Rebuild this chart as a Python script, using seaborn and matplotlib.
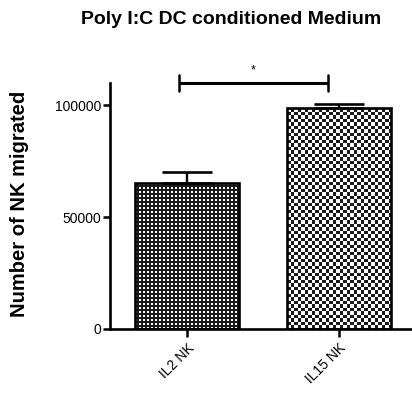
import numpy as np
import matplotlib
matplotlib.use("Agg")
import matplotlib.pyplot as plt
from matplotlib.colors import ListedColormap
import seaborn as sns
import pandas as pd

# Migration assay: NK cells toward Poly I:C DC conditioned medium
groups = ["IL2 NK", "IL15 NK"]
mean_migrated = [65200, 98600]
sem_migrated = [5200, 1900]
y_ticks = [0, 50000, 100000]
y_tick_labels = ["0", "50000", "100000"]
significance = "*"

sns.set_theme(style="white")
plt.rcParams["font.family"] = ["Liberation Sans", "DejaVu Sans"]
plt.rcParams["text.color"] = "black"

W, H, DPI = 412, 399, 100
fig = plt.figure(figsize=(W / DPI, H / DPI), dpi=DPI)
ax = fig.add_axes([110 / W, 1 - 329 / H, (W - 110) / W, (329 - 83) / H])

df = pd.DataFrame({"group": groups, "migrated": mean_migrated})
sns.barplot(data=df, x="group", y="migrated", ax=ax, width=0.684,
            facecolor="none", edgecolor="black", linewidth=1.9, zorder=3)

ax.errorbar(range(len(groups)), mean_migrated,
            yerr=[np.zeros(len(groups)), sem_migrated],
            fmt="none", ecolor="black", elinewidth=1.7, capsize=18,
            capthick=1.9, zorder=2)

ax.set_xlim(-0.507, (W - 187) / 152)
ax.set_ylim(0, 110000)


def checker_fill(patch, cell, white_size=None):
    """Fill a bar with a pixel-aligned checker texture clipped to the bar."""
    x0, w, h = patch.get_x(), patch.get_width(), patch.get_height()
    p0 = ax.transData.transform((x0, 0))
    p1 = ax.transData.transform((x0 + w, h))
    npx = int(round(p1[0] - p0[0]))
    npy = int(round(p1[1] - p0[1]))
    yy, xx = np.mgrid[0:npy, 0:npx]
    if white_size is None:
        arr = ((np.floor(xx / cell) + np.floor(yy / cell)) % 2).astype(float)
    else:
        arr = 1.0 - (((xx % cell) < white_size) & ((yy % cell) < white_size)).astype(float)
    im = ax.imshow(arr, cmap=ListedColormap(["white", "#1a1a1a"]),
                   extent=(x0, x0 + w, 0, h), origin="lower",
                   interpolation="nearest", aspect="auto", zorder=1,
                   vmin=0, vmax=1)
    im.set_clip_path(patch)


bars = ax.patches
checker_fill(bars[0], 4, white_size=2)
checker_fill(bars[1], 3.5)
ax.set_xlim(-0.507, (W - 187) / 152)
ax.set_ylim(0, 110000)

# significance bracket between the two groups
top = max(m + s for m, s in zip(mean_migrated, sem_migrated))
y_br = top + 9500
ax.plot([-0.05, 0.93], [y_br, y_br], color="black", lw=2.2,
        clip_on=False, solid_capstyle="butt")
for xb in (-0.05, 0.93):
    ax.plot([xb, xb], [y_br - 3700, y_br + 3500], color="black", lw=1.8,
            clip_on=False)
ax.text(0.434, y_br + 5500, significance, ha="center", va="center",
        fontsize=9, color="black")

# axes styling
for side in ("top", "right"):
    ax.spines[side].set_visible(False)
for side in ("left", "bottom"):
    ax.spines[side].set_linewidth(1.9)
    ax.spines[side].set_color("black")
    ax.spines[side].set_zorder(5)

ax.set_yticks(y_ticks)
ax.set_yticklabels(y_tick_labels)
ax.tick_params(axis="y", direction="out", length=5, width=1.8,
               labelsize=10, pad=1.5, colors="black", left=True)
ax.tick_params(axis="x", direction="out", length=5.5, width=1.8,
               labelsize=10, pad=3, colors="black", bottom=True)
for lbl in ax.get_xticklabels():
    lbl.set_rotation(45)
    lbl.set_ha("right")
    lbl.set_rotation_mode("anchor")
ax.set_xlabel("")
ax.set_ylabel("")
ax.grid(False)

fig.text(20 / W, 1 - 204 / H, "Number of NK migrated", rotation=90,
         ha="center", va="center", fontsize=14.5, fontweight="bold",
         color="black")
fig.text(231.5 / W, 1 - 24 / H, "Poly I:C DC conditioned Medium",
         ha="center", va="baseline", fontsize=14, fontweight="bold",
         color="black")

fig.savefig("out.png", dpi=DPI)
